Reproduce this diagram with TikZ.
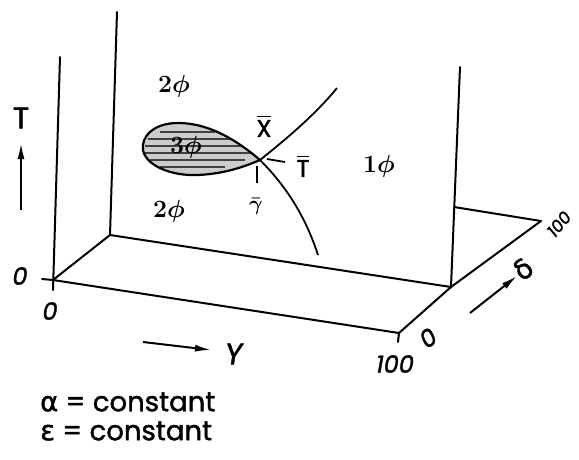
\documentclass[tikz,border=0pt]{standalone}
\usepackage{fontspec}
\setmainfont{Poppins}[BoldFont=Poppins, BoldFeatures={FakeBold=1.5}, BoldItalicFont=Poppins Italic, BoldItalicFeatures={FakeBold=1.5}]
\newfontfamily\gr{DejaVu Sans}[BoldFont=DejaVu Sans, BoldFeatures={FakeBold=1.5}]
\usepackage{amsmath}
\usetikzlibrary{arrows.meta}
\newcommand\looppath{(260,160) .. controls (232,136) and (205,123) .. (178,123) .. controls (152,123) and (141,138) .. (143,150) .. controls (146,166) and (172,176) .. (197,175) .. controls (225,174) and (246,166) .. (260,160)}
\begin{document}
\begin{tikzpicture}[x=1pt,y=-1pt,
  edge/.style={line width=2pt,line cap=round},
  curve/.style={line width=1.8pt},
  axarrow/.style={line width=2pt,-{Latex[length=16pt,width=7pt]}},
  lab/.style={inner sep=0pt,font=\fontsize{30}{32}\selectfont\bfseries},
  txt/.style={inner sep=0pt,font=\fontsize{27.5}{30}\selectfont\bfseries},
  num/.style={inner sep=0pt,font=\fontsize{24}{26}\selectfont\bfseries\itshape},
  phase/.style={inner sep=0pt,font=\fontsize{26}{28}\selectfont\boldmath}]
\useasboundingbox (0,0) rectangle (579,459);
% box coordinates
\coordinate (FL) at (53,280);
\coordinate (FLt) at (60,57);
\coordinate (FLb) at (53,290);
\coordinate (FLl) at (42,279);
\coordinate (BL) at (110,235);
\coordinate (BLt) at (117,12);
\coordinate (BR) at (451,287);
\coordinate (BRt) at (460,67);
\coordinate (FR) at (399,333);
\coordinate (FRb) at (398,342);
\coordinate (SRt) at (454,207);
\coordinate (SR) at (541,221);
\draw[edge] (FLt) -- (FLb);
\draw[edge] (FLl) -- (FL) -- (FR) -- (FRb);
\draw[edge] (FL) -- (BL) -- (BLt);
\draw[edge] (BL) -- (BR) -- (BRt);
\draw[edge] (FR) -- (BR) -- (SR);
\draw[edge] (SRt) -- (SR);
% three-phase loop
\begin{scope}
\clip \looppath;
\fill[gray!40] (138,118) rectangle (264,180);
\foreach \y/\a/\b in {132/160/215,139/148/235,146/145/250,153/145/252,160/150/245,167/160/225}
  \draw[black!75,line width=1.6pt] (\a,\y) -- (\b,\y);
\end{scope}
\draw[line width=2.2pt] \looppath;
\coordinate (Tip) at (260,160);
\coordinate (Cup) at (337,88);
\coordinate (Cdn) at (318,255);
\draw[curve] (Tip) .. controls (285,140) and (315,115) .. (Cup);
\draw[curve] (Tip) .. controls (285,185) and (305,215) .. (Cdn);
\coordinate (Da) at (267,159);
\coordinate (Db) at (285,162);
\draw[curve] (Da) -- (Db);
\coordinate (Ga) at (257,166);
\coordinate (Gb) at (257,183);
\draw[curve] (Ga) -- (Gb);
% arrows
\coordinate (Ta) at (21,210);
\coordinate (Tb) at (21,143);
\draw[axarrow] (Ta) -- (Tb);
\coordinate (Ya) at (143,342);
\coordinate (Yb) at (211,350);
\draw[axarrow] (Ya) -- (Yb);
\coordinate (Da1) at (470,313);
\coordinate (Db1) at (517,276);
\draw[axarrow] (Da1) -- (Db1);
% labels
\node[lab] (lT) at (21,118) {T};
\node[lab,xslant=0.15] (lY) at (234,354) {Y};
\node[num] (n0a) at (20,276) {0};
\node[num] (n0b) at (50,311) {0};
\node[num] (n100a) at (395,364) {100};
\node[num,rotate=37] (n0c) at (428,338) {0};
\node[txt,rotate=37] (ld) at (523,269) {\gr δ};
\node[num,rotate=50,font=\fontsize{17}{19}\selectfont\bfseries\itshape] (n100b) at (559,224) {100};
\node[phase] (p2a) at (174,86) {$2\phi$};
\node[phase] (p2b) at (169,211) {$2\phi$};
\node[phase] (p3) at (186,147) {$3\phi$};
\node[phase] (p1) at (379,166) {$1\phi$};
\node[inner sep=0pt,font=\fontsize{24}{26}\selectfont\bfseries] (lX) at (264,126) {$\overline{\mbox{X}}$};
\node[inner sep=0pt,font=\fontsize{24}{26}\selectfont\bfseries] (lTb) at (303,166) {$\overline{\mbox{T}}$};
\node[inner sep=0pt,font=\fontsize{20}{22}\selectfont\boldmath] (lG) at (256,206) {$\bar{\gamma}$};
\node[txt,anchor=west] (c1) at (40,402) {{\gr\bfseries α} = constant};
\node[txt,anchor=west] (c2) at (40,431) {{\gr\bfseries ε} = constant};
\end{tikzpicture}
\end{document}
